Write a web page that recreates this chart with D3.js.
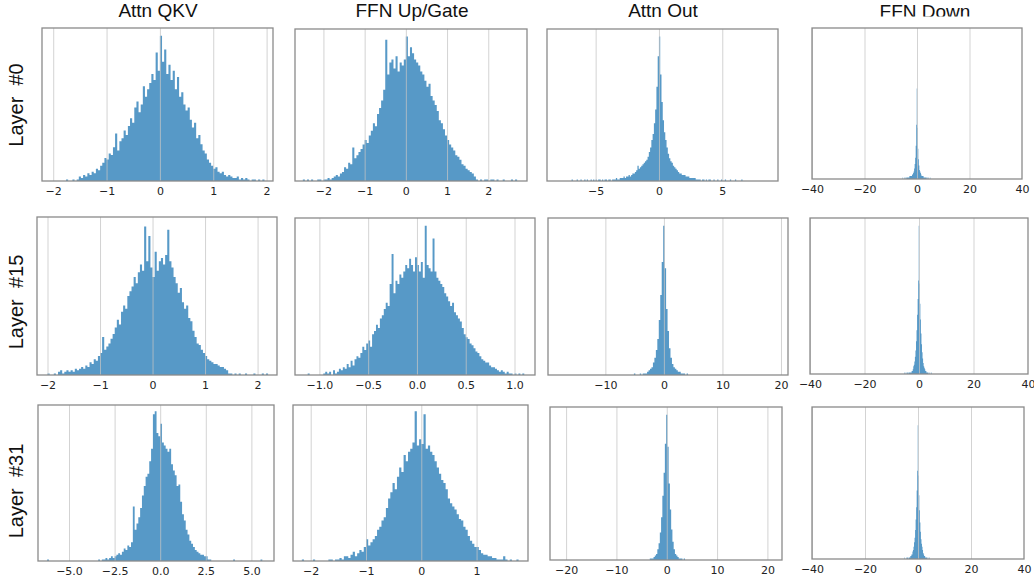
<!DOCTYPE html>
<html><head><meta charset="utf-8">
<script src="https://cdn.jsdelivr.net/npm/d3@7"></script>
<style>html,body{margin:0;padding:0;background:#fff;} svg{display:block}</style>
</head><body><svg id="c" width="1034" height="582"></svg>
<script>
// ---------------- DATA ----------------
const columnTitles = ["Attn QKV", "FFN Up/Gate", "Attn Out", "FFN Down"];
const rowLabels = ["Layer  #0", "Layer  #15", "Layer  #31"];

// Histogram counts, expressed as % of the axis height (bin start, bin width, counts)
const qkv0Start = -1.80, qkv0Width = 0.04;
const qkv0Counts = [0,1,0,0,1,0,1,3,2,4, 3,5,4,6,5,8,7,10,12,15, 14,18,17,22,31,20,26,28,33,30,
  36,41,38,48,52,45,50,62,55,60, 64,70,66,84,72,95,78,86,70,76, 66,72,60,68,55,58,50,46,48,40,
  35,38,28,30,24,20,18,14,12,10, 8,9,6,5,6,4,3,4,3,2, 2,3,1,2,1,2,1,0,1,1, 0,1,0,1];

const upGate0Start = -2.50, upGate0Width = 0.05;
const upGate0Counts = [1,0,1,0,1,0,0,1,1,0, 1,1,2,1,2,3,4,3,5,6, 9,8,12,11,22,15,17,19,21,24,
  27,25,30,33,38,36,44,48,53,60, 93,70,78,80,74,82,72,78,76,80, 95,82,88,84,80,78,76,72,70,66,
  62,64,56,53,50,46,40,38,34,30, 27,24,22,20,17,16,14,11,10,8, 7,6,5,3,1,0,1,0,1,1,
  0,1,1,0,1,0,0,1,0,0, 0,1,0,1,0];

const attnOut0Start = -7.0, attnOut0Width = 0.1;
const attnOut0Counts = [0,1,0,0,0,1,0,0,1,0, 0,1,0,1,0,0,1,0,1,0, 1,0,1,1,0,1,0,1,1,0, 1,1,0,1,1,1,2,1,1,2,
  2,2,3,2,3,3,4,3,4,5, 5,6,7,10,8,9,10,11,12,13, 14,16,19,22,27,31,38,47,62,82,
  95,70,52,40,32,27,22,18,15,13, 12,10,9,8,7,6,5,5,4,4, 4,3,3,3,2,2,2,2,2,1,
  1,1,1,0,1,1,0,1,0,1, 1,0,0,1,0,0,1,0,0,1, 0,0,1,0,0,0,1,0,0,0, 1,0,0,0,0,1,0,0,0,0];

const ffnDown0Start = -6.1, ffnDown0Width = 0.2;
const ffnDown0Counts = [0,0,0,1,0,0,1,0,1,0, 1,1,1,1,1,1,2,2,2,2, 2,3,3,4,5,7,10,14,22,36,
  60,
  34,20,13,9,6,5,4,3,2,2, 2,2,1,1,1,1,1,1,0,1, 0,1,0,0,1,0,0,0,0,0];

const qkv15Start = -2.0, qkv15Width = 0.04;
const qkv15Counts = [1,0,0,1,0,2,3,1,2,3, 2,3,2,4,3,4,5,4,6,5, 8,7,10,9,12,14,24,16,18,20,
  23,26,30,35,32,40,44,42,50,53, 56,62,58,65,70,66,94,72,88,68, 62,78,66,72,74,70,76,92,72,68,
  62,58,52,55,46,42,44,36,34,28, 24,20,19,16,14,12,10,9,8,7, 7,6,5,5,4,3,1,1,0,1,
  0,1,0,0,1,0,0,0,1,0, 0,0,1,0,1];

const upGate15Start = -1.12, upGate15Width = 0.02;
const upGate15Counts = [1,0,0,0,0,0,0,0,1,2, 1,2,0,3,1,2,4,3,5,4, 7,5,9,6,10,12,11,14,18,16,
  20,22,18,26,28,32,30,36,38,42, 46,44,58,77,52,60,58,64,62,66, 70,68,74,70,66,75,70,66,72,62,
  95,70,68,66,87,66,62,60,58,56, 52,50,47,44,46,40,38,36,34,30, 26,24,23,20,19,17,15,14,12,10,
  9,8,8,6,5,5,4,3,2,3, 2,1,2,1,1,0,1,0,1,0, 1,0];

const attnOut15Start = -5.125, attnOut15Width = 0.25;
const attnOut15Counts = [1,0,0,0,1,0,1,1,1,2, 3,4,5,8,11,16,23,35,51,72,
  95,68,42,28,17,11,7,5,4,3, 2,2,1,1,1,0,1];

const ffnDown15Start = -6.1, ffnDown15Width = 0.2;
const ffnDown15Counts = [0,0,0,1,0,0,1,0,1,1, 0,1,1,1,1,1,1,2,2,3, 5,6,8,11,15,21,28,38,48,60,
  95,
  58,45,35,26,19,14,10,7,5,4, 3,2,2,1,1,1,0,1,0,1, 0,0,1,0,0,0,0,0,0,0];

const qkv31Start = -6.3, qkv31Width = 0.1;
const qkv31Counts = [0,1,0,0,0,0,0,0,0,0, 0,0,0,0,0,0,0,0,0,0, 0,0,0,0,0,0,0,0,0,1,
  0,1,1,2,1,2,3,2,3,4, 5,4,6,8,7,10,9,12,35,20, 24,28,34,42,48,54,56,64,72,94,
  96,82,80,88,76,74,72,70,72,62, 58,55,48,49,38,30,26,20,17,13, 11,9,7,6,5,4,4,3,3,1,
  1,0,0,0,0,0,0,0,0,0, 0,0,0,1,0,0,0,0,0,0, 0,0,0,0,0,0,0,0,1,0];

const upGate31Start = -2.16, upGate31Width = 0.04;
const upGate31Counts = [1,0,0,0,0,1,0,0,0,0, 0,0,1,1,0,1,1,2,1,3, 3,2,4,6,3,5,7,6,9,14,
  10,12,14,16,20,22,26,28,34,40, 44,50,46,54,60,57,68,64,70,72, 76,96,74,78,75,94,72,74,70,68,
  64,60,56,52,50,46,40,37,35,33, 30,27,26,22,20,16,13,11,9,9, 7,5,4,4,3,3,2,2,1,1,
  1,3,1,0,1,0,0,1];

const attnOut31Start = -3.625, attnOut31Width = 0.25;
const attnOut31Counts = [0,1,1,1,2,3,4,7,11,18,28,42,57,76,95,74,50,33,20,12,7,4,3,2,1,1,1,0,1];

const ffnDown31Start = -6.1, ffnDown31Width = 0.2;
const ffnDown31Counts = [0,0,0,0,0,1,0,0,1,0, 1,1,0,1,1,1,2,2,3,3, 5,6,8,11,14,19,26,34,45,58,
  88,
  55,42,32,24,18,13,10,8,6,4, 3,2,2,1,1,1,1,0,1,0, 0,1,0,0,0,0,0,0,0,0];

// x-axis limits and ticks
const xDomains = [
  [[-2.21, 2.12], [-2.69, 2.94], [-8.84, 9.4], [-40, 40]],
  [[-2.2, 2.37], [-1.25, 1.21], [-19.8, 21.2], [-40, 40]],
  [[-6.7, 6.24], [-2.32, 1.93], [-23.2, 22.9], [-40, 40]]
];
const tickValues = [
  [[-2,-1,0,1,2], [-2,-1,0,1,2], [-5,0,5], [-40,-20,0,20,40]],
  [[-2,-1,0,1,2], [-1,-0.5,0,0.5,1], [-10,0,10,20], [-40,-20,0,20,40]],
  [[-5,-2.5,0,2.5,5], [-2,-1,0,1], [-20,-10,0,10,20], [-40,-20,0,20,40]]
];
const tickLabels = [
  [["\u22122","\u22121","0","1","2"], ["\u22122","\u22121","0","1","2"], ["\u22125","0","5"], ["\u221240","\u221220","0","20","40"]],
  [["\u22122","\u22121","0","1","2"], ["\u22121.0","\u22120.5","0.0","0.5","1.0"], ["\u221210","0","10","20"], ["\u221240","\u221220","0","20","40"]],
  [["\u22125.0","\u22122.5","0.0","2.5","5.0"], ["\u22122","\u22121","0","1"], ["\u221220","\u221210","0","10","20"], ["\u221240","\u221220","0","20","40"]]
];

const histograms = [
  [[qkv0Start, qkv0Width, qkv0Counts], [upGate0Start, upGate0Width, upGate0Counts], [attnOut0Start, attnOut0Width, attnOut0Counts], [ffnDown0Start, ffnDown0Width, ffnDown0Counts]],
  [[qkv15Start, qkv15Width, qkv15Counts], [upGate15Start, upGate15Width, upGate15Counts], [attnOut15Start, attnOut15Width, attnOut15Counts], [ffnDown15Start, ffnDown15Width, ffnDown15Counts]],
  [[qkv31Start, qkv31Width, qkv31Counts], [upGate31Start, upGate31Width, upGate31Counts], [attnOut31Start, attnOut31Width, attnOut31Counts], [ffnDown31Start, ffnDown31Width, ffnDown31Counts]]
];

// ---------------- LAYOUT ----------------
const boxes = [
  [[42,28,273,181], [295,29,527,181], [547,29,778,181], [812,28,1022,179]],
  [[37,217,277,375], [295,218,535,375], [548,218,788,375], [810,218,1028,374]],
  [[38,405,274,561], [293,405,528,561], [550,407,782,560], [812,407,1024,559]]
];
const titleX = [158, 412, 663, 925];
const rowLabelY = [105, 302, 491];

const barColor = "#5799c7";
const svg = d3.select("#c");
const defs = svg.append("defs");

for (let r = 0; r < 3; r++) {
  for (let c = 0; c < 4; c++) {
    const [bx0, by0, bx1, by1] = boxes[r][c];
    const [start, width, counts] = histograms[r][c];
    const x = d3.scaleLinear().domain(xDomains[r][c]).range([bx0, bx1]);
    const y = d3.scaleLinear().domain([0, 100]).range([by1, by0]);
    const pts = counts.map((v, i) => [start + i * width, v]);
    pts.push([start + counts.length * width, counts[counts.length - 1]]);

    const clipId = `clip-${r}-${c}`;
    defs.append("clipPath").attr("id", clipId)
      .append("rect").attr("x", bx0).attr("y", by0).attr("width", bx1 - bx0).attr("height", by1 - by0);

    const g = svg.append("g").attr("clip-path", `url(#${clipId})`);
    const area = d3.area()
      .x(d => x(d[0]))
      .y0(y(0))
      .y1(d => y(d[1]))
      .curve(d3.curveStepAfter);
    g.append("path").datum(pts).attr("d", area).attr("fill", barColor);

    // grid (drawn above bars, like matplotlib)
    const grid = g.append("g").attr("transform", `translate(0,${by1})`)
      .call(d3.axisBottom(x).tickValues(tickValues[r][c]).tickSize(-(by1 - by0)).tickFormat(""));
    grid.select(".domain").remove();
    grid.selectAll("line").attr("stroke", "#c4c4c4").attr("stroke-opacity", 0.75).attr("stroke-width", 1);

    // tick labels
    const labels = tickLabels[r][c];
    const ax = svg.append("g").attr("transform", `translate(0,${by1})`)
      .call(d3.axisBottom(x).tickValues(tickValues[r][c]).tickSize(0).tickPadding(5.7)
        .tickFormat((d, i) => labels[i]));
    ax.select(".domain").remove();
    ax.selectAll("text").attr("font-family", "DejaVu Sans").attr("font-size", 11).attr("fill", "#222");

    // frame
    svg.append("rect").attr("x", bx0).attr("y", by0).attr("width", bx1 - bx0).attr("height", by1 - by0)
      .attr("fill", "none").attr("stroke", "#8a8a8a").attr("stroke-width", 1.3);
  }
}

// column titles
defs.append("clipPath").attr("id", "titleClip").append("rect").attr("x", 0).attr("y", 0).attr("width", 1034).attr("height", 16.5);
svg.selectAll("text.title").data(columnTitles).join("text")
  .attr("class", "title")
  .attr("x", (d, i) => titleX[i]).attr("y", (d, i) => i === 3 ? 18 : 16.5)
  .attr("text-anchor", "middle")
  .attr("font-family", "Liberation Sans, Arial, sans-serif").attr("font-size", 19).attr("fill", "#111")
  .attr("clip-path", (d, i) => i === 3 ? "url(#titleClip)" : null)
  .text(d => d);

// row labels
svg.selectAll("text.rowlab").data(rowLabels).join("text")
  .attr("class", "rowlab")
  .attr("transform", (d, i) => `translate(23,${rowLabelY[i]}) rotate(-90)`)
  .attr("text-anchor", "middle")
  .style("white-space", "pre")
  .attr("font-family", "Liberation Sans, Arial, sans-serif").attr("font-size", 20).attr("fill", "#111")
  .text(d => d);
</script></body></html>
